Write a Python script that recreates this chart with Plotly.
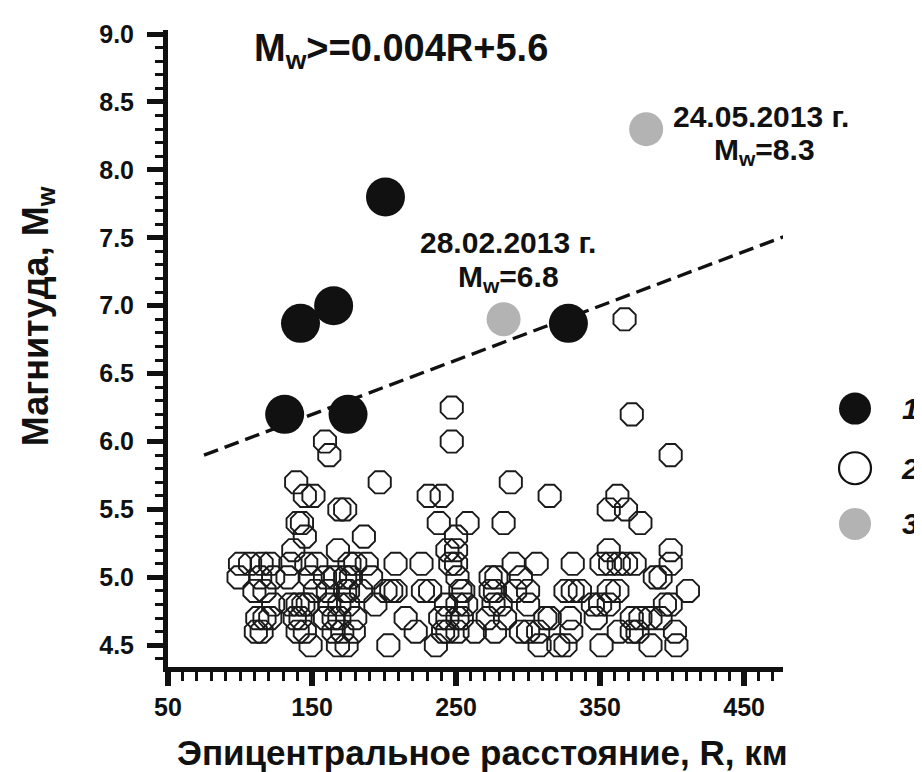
import plotly.graph_objects as go

# ---- data ----
# group 2: open circles
R_open = [
    159, 162, 139, 145, 151, 169, 140, 143, 145, 137, 168,
    100, 107, 115, 121, 135, 146, 153, 176,
    99, 114, 123, 133, 149, 159, 166, 173,
    110, 117, 152, 161, 173,
    123, 135, 140, 144, 147, 162, 169,
    112, 117, 121, 138, 142, 159, 165, 169,
    111, 115, 140, 145, 165, 171,
    149, 168, 174,
    247, 247, 197, 231, 240, 288, 173, 238, 258, 283, 186, 250, 244, 250,
    180, 188, 208, 226, 246, 250, 290, 306,
    177, 191, 251, 274, 278, 295,
    175, 184, 201, 205, 208, 227, 232, 253, 255, 274, 277, 291, 300,
    175, 194, 243, 251, 257, 276, 281, 300,
    180, 215, 239, 244, 251, 254, 272, 284, 312,
    179, 222, 241, 244, 251, 263, 277, 295, 300,
    203, 236, 308,
    367, 372, 399, 315, 362, 356, 368, 378, 356, 399,
    331, 351, 357, 363, 368, 374, 399,
    388, 392,
    326, 331, 336, 356, 362, 411,
    345, 350, 356, 395, 399,
    315, 329, 347, 372, 378, 385, 392,
    307, 330, 363, 372, 376, 402,
    321, 326, 351, 385, 403,
]
M_open = [
    6.0, 5.9, 5.7, 5.6, 5.6, 5.5, 5.4, 5.4, 5.3, 5.2, 5.2,
    5.1, 5.1, 5.1, 5.1, 5.1, 5.1, 5.1, 5.1,
    5.0, 5.0, 5.0, 5.0, 5.0, 5.0, 5.0, 5.0,
    4.9, 4.9, 4.9, 4.9, 4.9,
    4.8, 4.8, 4.8, 4.8, 4.8, 4.8, 4.8,
    4.7, 4.7, 4.7, 4.7, 4.7, 4.7, 4.7, 4.7,
    4.6, 4.6, 4.6, 4.6, 4.6, 4.6,
    4.5, 4.5, 4.5,
    6.25, 6.0, 5.7, 5.6, 5.6, 5.7, 5.5, 5.4, 5.4, 5.4, 5.3, 5.3, 5.2, 5.2,
    5.1, 5.1, 5.1, 5.1, 5.1, 5.1, 5.1, 5.1,
    5.0, 5.0, 5.0, 5.0, 5.0, 5.0,
    4.9, 4.9, 4.9, 4.9, 4.9, 4.9, 4.9, 4.9, 4.9, 4.9, 4.9, 4.9, 4.9,
    4.8, 4.8, 4.8, 4.8, 4.8, 4.8, 4.8, 4.8,
    4.7, 4.7, 4.7, 4.7, 4.7, 4.7, 4.7, 4.7, 4.7,
    4.6, 4.6, 4.6, 4.6, 4.6, 4.6, 4.6, 4.6, 4.6,
    4.5, 4.5, 4.5,
    6.9, 6.2, 5.9, 5.6, 5.6, 5.5, 5.5, 5.4, 5.2, 5.2,
    5.1, 5.1, 5.1, 5.1, 5.1, 5.1, 5.1,
    5.0, 5.0,
    4.9, 4.9, 4.9, 4.9, 4.9, 4.9,
    4.8, 4.8, 4.8, 4.8, 4.8,
    4.7, 4.7, 4.7, 4.7, 4.7, 4.7, 4.7,
    4.6, 4.6, 4.6, 4.6, 4.6, 4.6,
    4.5, 4.5, 4.5, 4.5, 4.5,
]
# group 1: black circles
R_black = [131, 175, 142, 165, 201, 328]
M_black = [6.2, 6.2, 6.87, 7.0, 7.8, 6.87]
# group 3: grey circles (named events)
R_grey = [283, 382]
M_grey = [6.9, 8.3]
# threshold line  Mw >= 0.004R + 5.6
R_line = [75, 478]
M_line = [5.9, 7.51]

x_ticks = [50, 150, 250, 350, 450]
y_ticks = [4.5, 5.0, 5.5, 6.0, 6.5, 7.0, 7.5, 8.0, 8.5, 9.0]
y_labels = ["4.5", "5.0", "5.5", "6.0", "6.5", "7.0", "7.5", "8.0", "8.5", "9.0"]
legend_labels = ["1", "2", "3"]

FONT = "Liberation Sans, Arial, sans-serif"

fig = go.Figure()
fig.add_trace(go.Scatter(
    x=R_open, y=M_open, mode="markers",
    marker=dict(symbol="octagon", size=24, color="rgba(0,0,0,0)",
                line=dict(color="#1a1a1a", width=1.9)),
    showlegend=False, hoverinfo="skip"))
fig.add_trace(go.Scatter(
    x=R_line, y=M_line, mode="lines",
    line=dict(color="#111111", width=3.4, dash="15px,7px"),
    showlegend=False, hoverinfo="skip"))
fig.add_trace(go.Scatter(
    x=R_black, y=M_black, mode="markers",
    marker=dict(symbol="circle", size=39, color="#111111", line=dict(width=0)),
    showlegend=False))
fig.add_trace(go.Scatter(
    x=R_grey, y=M_grey, mode="markers",
    marker=dict(symbol="circle", size=34, color="#b3b3b3", line=dict(width=0)),
    showlegend=False))

L, R_, T, B = 160, 147, 18, 113
W, H = 922, 772
pw, ph = W - L - R_, H - T - B


def px(xp):
    return (xp - L) / pw


def py(yp):
    return (H - B - yp) / ph


bold = dict(family=FONT, color="#111111", weight="bold")

fig.update_layout(
    width=W, height=H,
    margin=dict(l=L, r=R_, t=T, b=B),
    paper_bgcolor="white", plot_bgcolor="white",
    showlegend=False,
    xaxis=dict(range=[50, 477], tickvals=x_ticks, ticks="outside", ticklen=14,
               tickwidth=6, tickcolor="#111111",
               minor=dict(dtick=10, tick0=50, ticks="outside", ticklen=9,
                          tickwidth=3, tickcolor="#111111"),
               showline=True, linewidth=5, linecolor="#111111",
               showgrid=False, zeroline=False,
               tickfont=dict(size=25, **bold), ticklabelstandoff=0),
    yaxis=dict(range=[4.34, 9.03], tickvals=y_ticks, ticktext=y_labels,
               ticks="outside", ticklen=16, tickwidth=5, tickcolor="#111111",
               minor=dict(dtick=0.1, tick0=4.5, ticks="outside", ticklen=8,
                          tickwidth=2.5, tickcolor="#111111"),
               showline=True, linewidth=5, linecolor="#111111",
               showgrid=False, zeroline=False,
               tickfont=dict(size=25, **bold), ticklabelstandoff=8),
)


def note(text, x, y, size, xa="center", ya="middle", angle=0, italic=False):
    t = "<i>" + text + "</i>" if italic else text
    return dict(text=t, x=px(x), y=py(y), xref="paper", yref="paper",
                xanchor=xa, yanchor=ya, showarrow=False, textangle=angle,
                font=dict(size=size, **bold))


ann = [
    note("M<sub>w</sub>>=0.004R+5.6", 393, 13, 38, ya="top"),
    note("Эпицентральное расстояние, R, км", 474, 745, 35),
    note("Магнитуда, M<sub>w</sub>", 30, 306, 36, angle=-90),
    note("28.02.2013 г.", 500, 232, 30),
    note("M<sub>w</sub>=6.8", 500, 268, 30),
    note("24.05.2013 г.", 753, 105, 30),
    note("M<sub>w</sub>=8.3", 756, 140, 30),
]

# legend
leg_y = [399, 459, 515]
leg_style = [("#111111", "#111111", 0), ("rgba(0,0,0,0)", "#111111", 2.2),
             ("#b3b3b3", "#b3b3b3", 0)]
shapes = []
for yy, (fc, lc, lw), lab in zip(leg_y, leg_style, legend_labels):
    shapes.append(dict(type="circle", xref="paper", yref="paper",
                       xsizemode="pixel", ysizemode="pixel",
                       xanchor=px(847), yanchor=py(yy),
                       x0=-16, x1=16, y0=-16, y1=16,
                       fillcolor=fc, line=dict(color=lc, width=lw)))
    ann.append(note(lab, 902, yy, 30, italic=True))

fig.update_layout(annotations=ann, shapes=shapes)
fig.write_html("out.html")
